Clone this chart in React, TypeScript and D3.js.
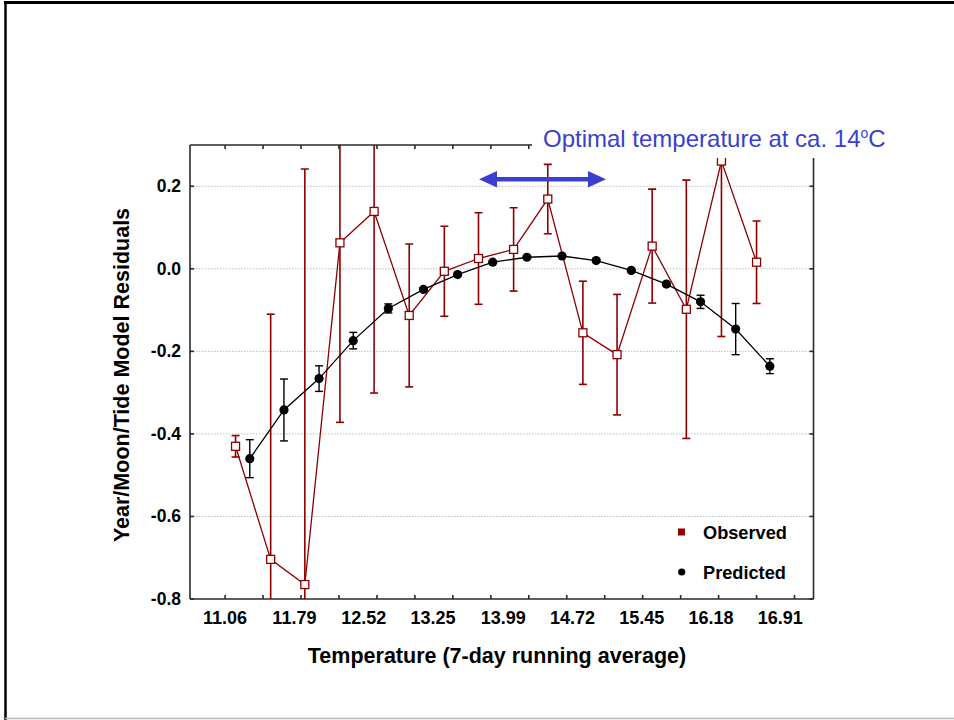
import React from "react";
import * as d3 from "d3";

const xTickLabels = [11.06, 11.79, 12.52, 13.25, 13.99, 14.72, 15.45, 16.18, 16.91];
const xMinorTicks = [11.06, 11.46, 11.86, 12.26, 12.66, 13.06, 13.46, 13.86, 14.26, 14.66, 15.06, 15.46, 15.86, 16.26, 16.66, 17.06];
const yTicks = [0.2, 0.0, -0.2, -0.4, -0.6, -0.8];

const observedTemp = [11.17, 11.54, 11.90, 12.27, 12.63, 13.00, 13.37, 13.73, 14.10, 14.46, 14.83, 15.19, 15.56, 15.92, 16.29, 16.66];
const observedValue = [-0.430, -0.704, -0.765, 0.063, 0.139, -0.113, -0.006, 0.025, 0.047, 0.169, -0.155, -0.208, 0.055, -0.098, 0.261, 0.016];
const observedErr = [0.026, 0.594, 1.007, 0.435, 0.440, 0.173, 0.109, 0.111, 0.101, 0.084, 0.125, 0.146, 0.138, 0.313, 0.425, 0.100];

const predictedTemp = [11.32, 11.68, 12.05, 12.41, 12.78, 13.15, 13.51, 13.88, 14.24, 14.61, 14.97, 15.34, 15.71, 16.07, 16.44, 16.80];
const predictedValue = [-0.460, -0.342, -0.266, -0.174, -0.096, -0.050, -0.014, 0.016, 0.028, 0.031, 0.020, -0.004, -0.037, -0.080, -0.146, -0.236];
const predictedErr = [0.046, 0.075, 0.031, 0.020, 0.011, 0.004, 0.003, 0.003, 0.003, 0.003, 0.003, 0.003, 0.004, 0.016, 0.062, 0.018];

const W = 954;
const H = 720;
const plot = { left: 190, right: 813.5, top: 145, bottom: 599 };
const RED = "#8c0000";
const BLUE = "#3a3fd0";
const FONT = "'Liberation Sans', Arial, sans-serif";

export default function App() {
  const x = d3.scaleLinear().domain([10.69, 17.26]).range([plot.left, plot.right]);
  const y = d3.scaleLinear().domain([-0.8, 0.3]).range([plot.bottom, plot.top]);

  const obs = observedTemp.map((t, i) => ({ t, v: observedValue[i], e: observedErr[i] }));
  const pred = predictedTemp.map((t, i) => ({ t, v: predictedValue[i], e: predictedErr[i] }));

  const line = d3
    .line<{ t: number; v: number }>()
    .x((d) => x(d.t))
    .y((d) => y(d.v));

  const inPlot = (py: number) => py >= plot.top - 0.5 && py <= plot.bottom + 0.5;

  const errBars = (data: { t: number; v: number; e: number }[], color: string, width: number) =>
    data.map((d, i) => {
      const cx = x(d.t);
      const yt = y(d.v + d.e);
      const yb = y(d.v - d.e);
      const ytc = Math.max(yt, plot.top);
      const ybc = Math.min(yb, plot.bottom);
      return (
        <g key={i} stroke={color} strokeWidth={width}>
          <line x1={cx} x2={cx} y1={ytc} y2={ybc} />
          {inPlot(yt) && <line x1={cx - 4} x2={cx + 4} y1={yt} y2={yt} />}
          {inPlot(yb) && <line x1={cx - 4} x2={cx + 4} y1={yb} y2={yb} />}
        </g>
      );
    });

  return (
    <div style={{ position: "absolute", left: 0, top: 0 }}>
      <svg width={W} height={H} style={{ display: "block", background: "#fff" }} fontFamily={FONT}>
        <rect x={0} y={0} width={W} height={H} fill="#fff" />
        {/* outer frame */}
        <line x1={4} x2={W} y1={2.5} y2={2.5} stroke="#000" strokeWidth={3} />
        <line x1={5.5} x2={5.5} y1={2} y2={H} stroke="#000" strokeWidth={2.5} />
        <line x1={5} x2={W} y1={718.5} y2={718.5} stroke="#b8b8b8" strokeWidth={1.5} />

        <defs>
          <clipPath id="plotClip">
            <rect x={plot.left} y={plot.top} width={plot.right - plot.left} height={plot.bottom - plot.top} />
          </clipPath>
        </defs>

        {/* grid lines */}
        {yTicks
          .filter((v) => v > -0.8)
          .map((v) => (
            <line
              key={"g" + v}
              x1={plot.left}
              x2={plot.right}
              y1={y(v)}
              y2={y(v)}
              stroke="#bdbdbd"
              strokeWidth={1}
              strokeDasharray="1.5,1.5"
            />
          ))}

        {/* axes box */}
        <g stroke="#2a2a2a" strokeWidth={1.6} fill="none">
          <line x1={plot.left} x2={plot.right} y1={plot.top} y2={plot.top} />
          <line x1={plot.left} x2={plot.right} y1={plot.bottom} y2={plot.bottom} />
          <line x1={plot.left} x2={plot.left} y1={plot.top} y2={plot.bottom} />
          <line x1={plot.right} x2={plot.right} y1={plot.top} y2={plot.bottom} />
          {xMinorTicks.map((t) => (
            <g key={"xt" + t}>
              <line x1={x(t)} x2={x(t)} y1={plot.bottom} y2={plot.bottom - 4} />
              <line x1={x(t)} x2={x(t)} y1={plot.top} y2={plot.top + 4} />
            </g>
          ))}
          {yTicks.map((v) => (
            <g key={"yt" + v}>
              <line x1={plot.left} x2={plot.left + 4} y1={y(v)} y2={y(v)} />
              <line x1={plot.right} x2={plot.right - 4} y1={y(v)} y2={y(v)} />
            </g>
          ))}
        </g>

        {/* tick labels */}
        {xTickLabels.map((t) => (
          <text
            key={"xl" + t}
            x={x(t)}
            y={623.5}
            textAnchor="middle"
            fontSize={18}
            fontWeight="bold"
            fill="#000"
          >
            {t.toFixed(2)}
          </text>
        ))}
        {yTicks.map((v) => (
          <text
            key={"yl" + v}
            x={181}
            y={y(v) + 6}
            textAnchor="end"
            fontSize={17.5}
            fontWeight="bold"
            fill="#000"
          >
            {v.toFixed(1)}
          </text>
        ))}

        {/* axis titles */}
        <text x={497} y={663} textAnchor="middle" fontSize={21.5} fontWeight="bold" fill="#000">
          Temperature (7-day running average)
        </text>
        <text
          transform={`translate(129,${(plot.top + plot.bottom) / 2 + 3}) rotate(-90)`}
          textAnchor="middle"
          fontSize={21.5}
          fontWeight="bold"
          fill="#000"
        >
          Year/Moon/Tide Model Residuals
        </text>

        {/* data */}
        <g clipPath="url(#plotClip)">
          {errBars(obs, RED, 1.6)}
          <path d={line(obs) || ""} fill="none" stroke={RED} strokeWidth={1.3} />
          {errBars(pred, "#000", 1.4)}
          <path d={line(pred) || ""} fill="none" stroke="#000" strokeWidth={1.3} />
          {obs.map((d, i) => (
            <rect
              key={"o" + i}
              x={x(d.t) - 4}
              y={y(d.v) - 4}
              width={8}
              height={8}
              fill="#fff"
              stroke={RED}
              strokeWidth={1.3}
            />
          ))}
          {pred.map((d, i) => (
            <circle key={"p" + i} cx={x(d.t)} cy={y(d.v)} r={4.6} fill="#000" />
          ))}
        </g>

        {/* title box */}
        <rect x={532} y={112} width={370} height={46} fill="#fff" />
        <text x={543} y={147} fontSize={24} fill={BLUE}>
          Optimal temperature at ca. 14
          <tspan fontSize={14} dy={-9}>o</tspan>
          <tspan dy={9}>C</tspan>
        </text>

        {/* arrow */}
        <g fill={BLUE} stroke="none">
          <rect x={495} y={177} width={96} height={4.5} />
          <polygon points={`${479},${179.3} ${497},${171} ${497},${187.6}`} />
          <polygon points={`${606},${179.3} ${588},${171} ${588},${187.6}`} />
        </g>

        {/* legend */}
        <rect x={678} y={528.5} width={7} height={7} fill={RED} />
        <text x={703} y={538.5} fontSize={18.2} fontWeight="bold" fill="#000">
          Observed
        </text>
        <circle cx={681.7} cy={572} r={3.6} fill="#000" />
        <text x={703} y={578.5} fontSize={18.2} fontWeight="bold" fill="#000">
          Predicted
        </text>
      </svg>
    </div>
  );
}
